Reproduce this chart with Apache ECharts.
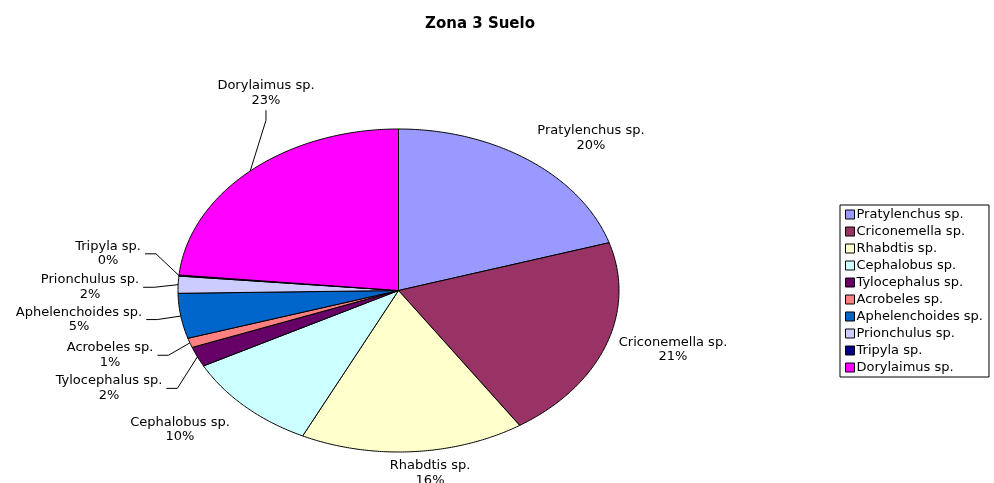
<!DOCTYPE html>
<html><head><meta charset="utf-8">
<script src="https://cdn.jsdelivr.net/npm/echarts@6/dist/echarts.min.js"></script>
<style>html,body{margin:0;padding:0;background:#fff}#c{width:994px;height:483px}</style>
</head><body><div id="c"></div>
<script>
// ---- data ----
const title = 'Zona 3 Suelo';
const categories = ['Pratylenchus sp.', 'Criconemella sp.', 'Rhabdtis sp.', 'Cephalobus sp.', 'Tylocephalus sp.', 'Acrobeles sp.', 'Aphelenchoides sp.', 'Prionchulus sp.', 'Tripyla sp.', 'Dorylaimus sp.'];
const values = [20.2, 20.5, 16.4, 10.1, 2.0, 0.95, 4.5, 1.7, 0.1, 23.45];
const colors = ['#9999FF', '#993366', '#FFFFCC', '#CCFFFF', '#660066', '#FF8080', '#0066CC', '#CCCCFF', '#000080', '#FF00FF'];

// ---- layout (label block centres in ellipse units, leader style) ----
const labelPos = [[0.873, 0.942], [1.245, -0.365], [0.143, -1.132], [-0.991, -0.860], [-1.313, -0.606], [-1.308, -0.401], [-1.449, -0.180], [-1.399, 0.020], [-1.317, 0.227], [-0.601, 1.221]];
const leaderType = ['none', 'none', 'none', 'none', 'left', 'left', 'left', 'left', 'left', 'top'];

const total = values.reduce((a, b) => a + b, 0);
const cum = [0];
values.forEach((v, i) => cum.push(cum[i] + v / total));
const FONT = '13px "DejaVu Sans"';
const mctx = document.createElement('canvas').getContext('2d');
mctx.font = FONT;

function edge(api, f) {
  const a = 2 * Math.PI * f;
  return api.coord([Math.sin(a), Math.cos(a)]);
}

const sliceSeries = categories.map((name, i) => ({
  type: 'custom',
  name: name,
  coordinateSystem: 'cartesian2d',
  data: [[0, 0]],
  itemStyle: { color: colors[i], borderColor: '#000', borderWidth: 1 },
  silent: true,
  animation: false,
  renderItem: function (params, api) {
    const f0 = cum[i], f1 = cum[i + 1];
    const pts = [api.coord([0, 0])];
    const n = Math.max(2, Math.ceil((f1 - f0) * 720));
    for (let k = 0; k <= n; k++) pts.push(edge(api, f0 + (f1 - f0) * k / n));
    return { type: 'polygon', shape: { points: pts }, style: { fill: colors[i], stroke: '#000', lineWidth: 1 } };
  }
}));

const labelSeries = {
  type: 'custom',
  name: '_labels',
  coordinateSystem: 'cartesian2d',
  data: categories.map((c, i) => [0, 0, i]),
  silent: true,
  animation: false,
  z: 10,
  renderItem: function (params, api) {
    const i = params.dataIndex;
    const pct = Math.round(values[i] / total * 100) + '%';
    const p = api.coord(labelPos[i]);
    const children = [{
      type: 'text', x: p[0], y: p[1],
      style: { text: categories[i] + '\n' + pct, font: FONT, fill: '#000', align: 'center', verticalAlign: 'middle', lineHeight: 14.5 }
    }];
    const mid = edge(api, (cum[i] + cum[i + 1]) / 2);
    if (leaderType[i] === 'left') {
      const w = Math.max(mctx.measureText(categories[i]).width, mctx.measureText(pct).width);
      const x0 = p[0] + w / 2 + 4;
      const pts = [[x0, p[1]], [Math.min(x0 + 11, mid[0]), p[1]], mid];
      children.push({ type: 'polyline', shape: { points: pts }, style: { stroke: '#000', lineWidth: 1, fill: null } });
    } else if (leaderType[i] === 'top') {
      const pts = [[p[0], p[1] + 17], [p[0], p[1] + 27], mid];
      children.push({ type: 'polyline', shape: { points: pts }, style: { stroke: '#000', lineWidth: 1, fill: null } });
    }
    return { type: 'group', children: children };
  }
};

const chart = echarts.init(document.getElementById('c'), null, { renderer: 'canvas' });
chart.setOption({
  backgroundColor: '#fff',
  animation: false,
  title: {
    text: title, left: 480, top: 17, padding: 0, textAlign: 'center',
    textStyle: { fontFamily: 'DejaVu Sans', fontSize: 15, fontWeight: 'bold', color: '#000' }
  },
  legend: {
    data: categories, orient: 'vertical', left: 840, top: 205,
    padding: [3, 6, 3, 5], itemGap: 4, itemWidth: 9, itemHeight: 9,
    icon: 'rect', selectedMode: false,
    borderColor: '#000', borderWidth: 1,
    itemStyle: { borderColor: '#000', borderWidth: 1 },
    textStyle: { fontFamily: 'DejaVu Sans', fontSize: 13, color: '#000', lineHeight: 13, padding: [0, 0, 0, -3] }
  },
  grid: { left: 178, top: 129, width: 441, height: 323, show: false },
  xAxis: { type: 'value', min: -1, max: 1, show: false },
  yAxis: { type: 'value', min: -1, max: 1, show: false },
  series: sliceSeries.concat([labelSeries])
});
</script></body></html>
